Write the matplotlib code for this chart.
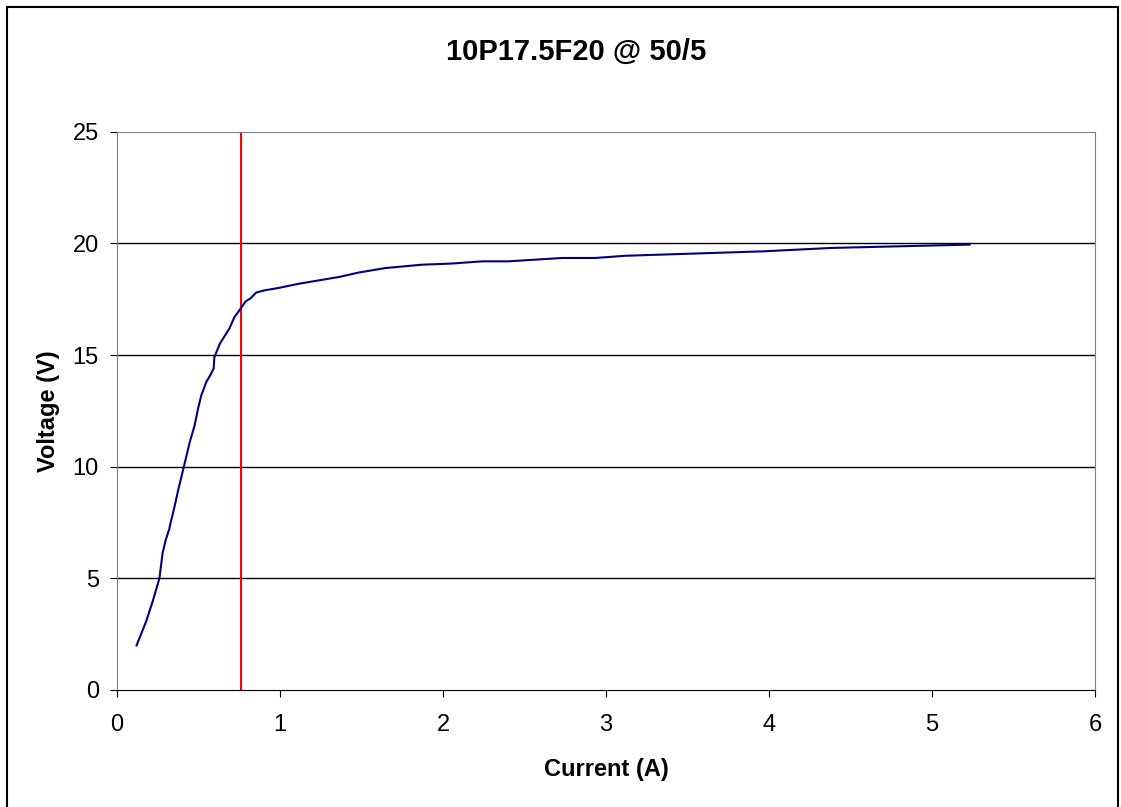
import numpy as np
import matplotlib.pyplot as plt
from matplotlib.patches import Rectangle

plt.rcParams['font.family'] = ['Liberation Sans', 'DejaVu Sans']

# excitation curve readings
current = [0.12, 0.18, 0.22, 0.26, 0.28, 0.30, 0.32, 0.334, 0.354, 0.375, 0.41,
           0.446, 0.476, 0.497, 0.517, 0.548, 0.572, 0.593, 0.597, 0.63, 0.69,
           0.72, 0.76, 0.788, 0.82, 0.853, 0.904, 0.985, 1.118, 1.24, 1.362,
           1.484, 1.647, 1.87, 2.05, 2.24, 2.40, 2.73, 2.93, 3.12, 3.97, 4.38, 5.23]
voltage = [2.0, 3.1, 4.0, 5.0, 6.15, 6.75, 7.2, 7.65, 8.25, 8.95, 10.0,
           11.1, 11.85, 12.6, 13.2, 13.8, 14.1, 14.4, 14.9, 15.5, 16.2,
           16.7, 17.1, 17.4, 17.55, 17.8, 17.9, 18.0, 18.2, 18.35, 18.5,
           18.7, 18.9, 19.05, 19.1, 19.2, 19.2, 19.35, 19.35, 19.45, 19.65, 19.8, 19.95]
knee_current = 0.76

fig = plt.figure(figsize=(11.21, 8.07), dpi=100)
ax = fig.add_axes([0.1044, 0.145, 0.8724, 0.6916])

for yv in [5, 10, 15, 20]:
    ax.axhline(yv, color='black', lw=1, zorder=1)
ax.plot(current, voltage, color='#000080', lw=1.5, zorder=3)
ax.axvline(knee_current, color='red', lw=1.5, zorder=2)

ax.set_xlim(0, 6)
ax.set_ylim(0, 25)
ax.set_xticks(range(0, 7))
ax.set_yticks(range(0, 26, 5))
ax.tick_params(direction='out', length=5, labelsize=17, colors='black')
ax.tick_params(axis='x', pad=12)
ax.tick_params(axis='y', pad=8)
ax.spines['left'].set_color('#808080')
ax.spines['bottom'].set_color('black')
ax.spines['top'].set_color('#808080')
ax.spines['right'].set_color('#808080')

ax.set_xlabel('Current (A)', fontsize=17, fontweight='bold', labelpad=16)
ax.set_ylabel('Voltage (V)', fontsize=17, fontweight='bold', labelpad=9)
fig.text(576 / 1121, 1 - 52 / 807, '10P17.5F20 @ 50/5', fontsize=21,
         fontweight='bold', ha='center', va='center')

fig.patches.append(Rectangle((7 / 1121, -0.05), 1111 / 1121, 1 - 7 / 807 + 0.05,
                             transform=fig.transFigure, fill=False,
                             edgecolor='black', lw=1.5))

plt.savefig('out.png', dpi=100)
